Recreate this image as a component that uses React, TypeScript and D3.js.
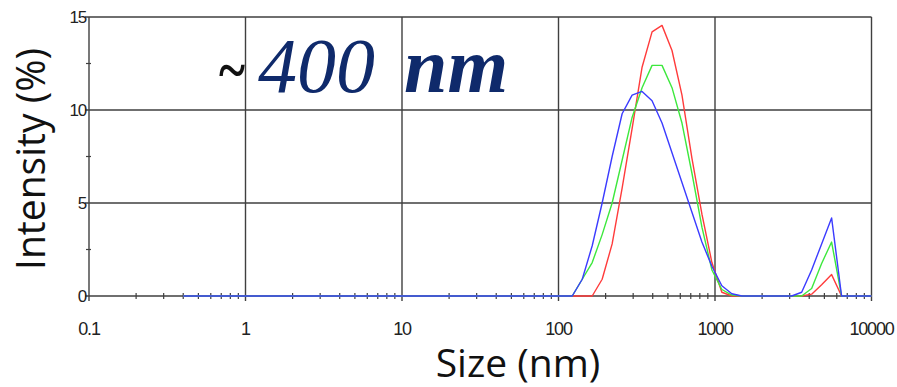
import React from "react";
import * as d3 from "d3";

const sizes = [
  0.4, 0.4632, 0.5365, 0.6213, 0.7195, 0.8332, 0.9649, 1.117, 1.294, 1.499,
  1.736, 2.01, 2.328, 2.696, 3.122, 3.615, 4.187, 4.849, 5.615, 6.503,
  7.531, 8.721, 10.1, 11.7, 13.54, 15.69, 18.17, 21.04, 24.36, 28.21,
  32.67, 37.84, 43.82, 50.75, 58.77, 68.06, 78.82, 91.28, 105.7, 122.4,
  141.8, 164.2, 190.1, 220.2, 255.0, 295.3, 342.0, 396.1, 458.7, 531.2,
  615.1, 712.4, 825.0, 955.4, 1106, 1281, 1484, 1718, 1990, 2305,
  2669, 3091, 3580, 4145, 4801, 5560, 6439, 7456, 8635, 10000,
];

const red = [
  0, 0, 0, 0, 0, 0, 0, 0, 0, 0,
  0, 0, 0, 0, 0, 0, 0, 0, 0, 0,
  0, 0, 0, 0, 0, 0, 0, 0, 0, 0,
  0, 0, 0, 0, 0, 0, 0, 0, 0, 0,
  0, 0, 0.9, 2.8, 5.8, 9.0, 12.3, 14.2, 14.55, 13.2,
  10.8, 7.4, 4.4, 1.8, 0.2, 0, 0, 0, 0, 0,
  0, 0, 0, 0.1, 0.6, 1.15, 0, 0, 0, 0,
];

const green = [
  0, 0, 0, 0, 0, 0, 0, 0, 0, 0,
  0, 0, 0, 0, 0, 0, 0, 0, 0, 0,
  0, 0, 0, 0, 0, 0, 0, 0, 0, 0,
  0, 0, 0, 0, 0, 0, 0, 0, 0, 0,
  0.9, 1.8, 3.3, 5.0, 7.3, 9.6, 11.2, 12.4, 12.4, 11.2,
  9.3, 6.6, 3.7, 1.4, 0.35, 0.05, 0, 0, 0, 0,
  0, 0, 0, 0.4, 1.75, 2.9, 0, 0, 0, 0,
];

const blue = [
  0, 0, 0, 0, 0, 0, 0, 0, 0, 0,
  0, 0, 0, 0, 0, 0, 0, 0, 0, 0,
  0, 0, 0, 0, 0, 0, 0, 0, 0, 0,
  0, 0, 0, 0, 0, 0, 0, 0, 0, 0,
  0.9, 2.7, 5.0, 7.5, 9.8, 10.8, 11.0, 10.5, 9.3, 7.7,
  6.1, 4.5, 2.9, 1.6, 0.55, 0.12, 0, 0, 0, 0,
  0, 0, 0.2, 1.4, 2.8, 4.2, 0, 0, 0, 0,
];

const xTicks = [0.1, 1, 10, 100, 1000, 10000];
const xTickLabels = ["0.1", "1", "10", "100", "1000", "10000"];
const yTicks = [0, 5, 10, 15];
const yMinorTicks = [2.5, 7.5, 12.5];

const series = [
  { name: "red", values: red, color: "#ff3b3b" },
  { name: "green", values: green, color: "#3de83d" },
  { name: "blue", values: blue, color: "#3b3bff" },
];

export default function App() {
  const W = 897;
  const H = 387;
  const x = d3.scaleLog().domain([0.1, 10000]).range([89, 871.5]);
  const y = d3.scaleLinear().domain([0, 15]).range([296, 17]);

  const minorX: number[] = [];
  for (let e = -1; e < 4; e++) {
    for (let m = 2; m <= 9; m++) minorX.push(m * Math.pow(10, e));
  }

  const line = d3
    .line<number>()
    .x((_, i) => x(sizes[i]))
    .y((v) => y(v));

  const gridColor = "#3f3f3f";

  return (
    <svg
      width={W}
      height={H}
      style={{ position: "absolute", left: 0, top: 0, background: "#fff" }}
    >
      {/* grid */}
      {xTicks.map((t) => (
        <line
          key={"gx" + t}
          x1={x(t)}
          x2={x(t)}
          y1={y(15)}
          y2={y(0) + 5}
          stroke={gridColor}
          strokeWidth={1.4}
        />
      ))}
      {yTicks.map((t) => (
        <line
          key={"gy" + t}
          x1={x(0.1) - 4}
          x2={x(10000)}
          y1={y(t)}
          y2={y(t)}
          stroke={gridColor}
          strokeWidth={1.4}
        />
      ))}
      {yMinorTicks.map((t) => (
        <line
          key={"my" + t}
          x1={x(0.1) - 3}
          x2={x(0.1) + 2}
          y1={y(t)}
          y2={y(t)}
          stroke={gridColor}
          strokeWidth={1.2}
        />
      ))}
      {minorX.map((t) => (
        <line
          key={"mx" + t}
          x1={x(t)}
          x2={x(t)}
          y1={y(0) - 3}
          y2={y(0) + 3}
          stroke={gridColor}
          strokeWidth={1.2}
        />
      ))}

      {/* data */}
      {series.map((s) => (
        <path
          key={s.name}
          d={line(s.values) || ""}
          fill="none"
          stroke={s.color}
          strokeWidth={1.4}
          strokeLinejoin="round"
        />
      ))}

      {/* tick labels */}
      {xTicks.map((t, i) => (
        <text
          key={"tx" + t}
          x={x(t)}
          y={335}
          textAnchor="middle"
          fontFamily="Liberation Sans, Arial, sans-serif"
          fontSize={18}
          letterSpacing={-1.2}
          fill="#222"
        >
          {xTickLabels[i]}
        </text>
      ))}
      {yTicks.map((t) => (
        <text
          key={"ty" + t}
          x={86}
          y={y(t) + 6}
          textAnchor="end"
          fontFamily="Liberation Sans, Arial, sans-serif"
          fontSize={17}
          letterSpacing={-1.2}
          fill="#222"
        >
          {t}
        </text>
      ))}

      {/* axis titles */}
      <text
        x={518}
        y={377}
        textAnchor="middle"
        fontFamily="Open Sans, sans-serif"
        fontSize={39}
        fill="#111"
      >
        Size (nm)
      </text>
      <text
        transform={`translate(45,159) rotate(-90)`}
        textAnchor="middle"
        fontFamily="Open Sans, sans-serif"
        fontSize={41}
        textLength={222}
        lengthAdjust="spacingAndGlyphs"
        fill="#111"
      >
        Intensity (%)
      </text>

      {/* annotation */}
      <text
        x={219}
        y={90}
        fontFamily="Liberation Serif, Times New Roman, serif"
        fontSize={62}
        fontWeight="bold"
        textLength={26}
        lengthAdjust="spacingAndGlyphs"
        fill="#111"
      >
        ~
      </text>
      <text
        x={258}
        y={92}
        fontFamily="Liberation Serif, Times New Roman, serif"
        fontSize={78}
        fontStyle="italic"
        fill="#0f2a6b"
      >
        400
      </text>
      <text
        x={404}
        y={92}
        fontFamily="Liberation Serif, Times New Roman, serif"
        fontSize={78}
        fontStyle="italic"
        fontWeight="bold"
        fill="#0f2a6b"
      >
        nm
      </text>
    </svg>
  );
}
